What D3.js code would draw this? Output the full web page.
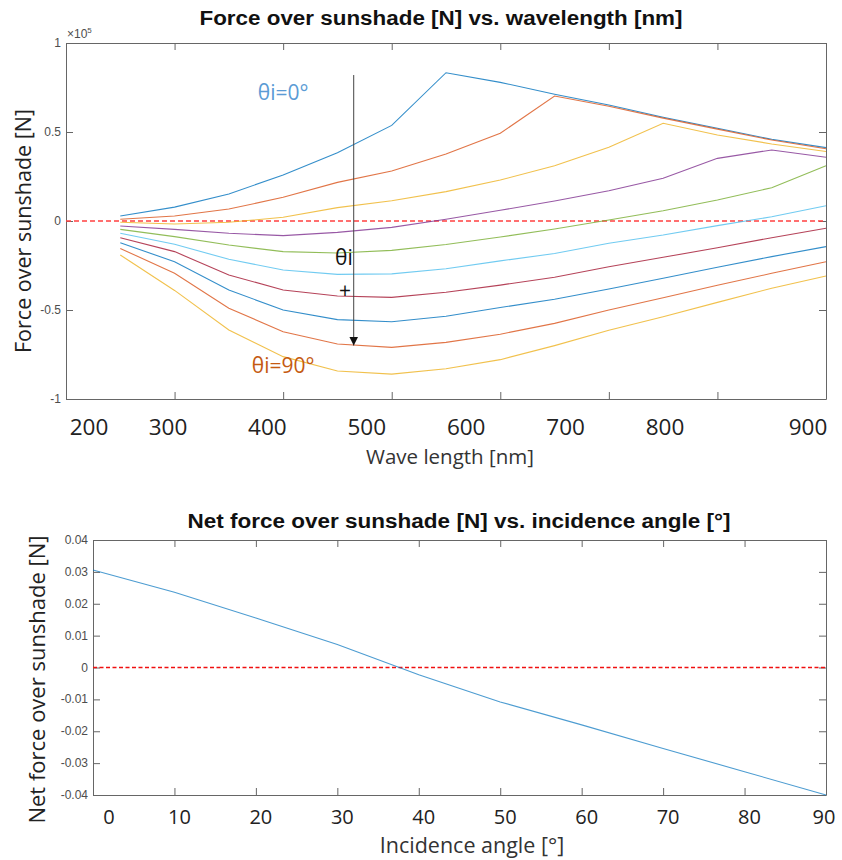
<!DOCTYPE html>
<html>
<head>
<meta charset="utf-8">
<script src="https://cdn.jsdelivr.net/npm/d3@7"></script>
<style>
  body { margin: 0; background: #fff; }
  text { font-family: "Open Sans", "Noto Sans", sans-serif; }
  .mtitle { font-family: "Liberation Sans", Arial, sans-serif; font-weight: bold; }
  .mtick { font-family: "Liberation Sans", Arial, sans-serif; fill: #4d4d4d; font-size: 12px; }
</style>
</head>
<body>
<div id="chart"></div>
<script>
// ---- data (top chart: force in units of 1e5 N) ----
const wavelength = [250, 300, 350, 400, 450, 500, 550, 600, 650, 700, 750, 800, 850, 900];
const incidence = [0, 10, 20, 30, 40, 50, 60, 70, 80, 90];
const forceByAngle = [
  [0.028, 0.078, 0.152, 0.258, 0.384, 0.537, 0.833, 0.779, 0.712, 0.652, 0.583, 0.521, 0.459, 0.412],
  [0.010, 0.028, 0.067, 0.133, 0.217, 0.281, 0.376, 0.493, 0.702, 0.645, 0.578, 0.516, 0.455, 0.406],
  [-0.007, -0.017, -0.007, 0.021, 0.075, 0.114, 0.165, 0.230, 0.310, 0.414, 0.549, 0.483, 0.433, 0.390],
  [-0.028, -0.047, -0.069, -0.082, -0.064, -0.036, 0.010, 0.060, 0.112, 0.170, 0.240, 0.352, 0.399, 0.358],
  [-0.047, -0.088, -0.135, -0.172, -0.180, -0.165, -0.132, -0.090, -0.045, 0.006, 0.058, 0.118, 0.187, 0.311],
  [-0.069, -0.131, -0.215, -0.275, -0.300, -0.297, -0.268, -0.224, -0.183, -0.125, -0.079, -0.026, 0.024, 0.086],
  [-0.094, -0.172, -0.303, -0.388, -0.421, -0.429, -0.400, -0.360, -0.316, -0.257, -0.204, -0.150, -0.094, -0.041],
  [-0.122, -0.229, -0.388, -0.500, -0.554, -0.566, -0.535, -0.486, -0.440, -0.382, -0.322, -0.260, -0.200, -0.144],
  [-0.154, -0.294, -0.490, -0.622, -0.691, -0.710, -0.682, -0.636, -0.575, -0.500, -0.431, -0.361, -0.294, -0.229],
  [-0.191, -0.390, -0.612, -0.762, -0.843, -0.860, -0.830, -0.779, -0.700, -0.614, -0.538, -0.457, -0.378, -0.309]
];
const topXTicks = [200, 300, 400, 500, 600, 700, 800, 900];
const topYTicks = [-1, -0.5, 0, 0.5, 1];

// ---- data (bottom chart: net force in N) ----
const angle = [0, 10, 20, 30, 40, 50, 60, 70, 80, 90];
const netForce = [0.0306, 0.0236, 0.0155, 0.0072, -0.0023, -0.0108, -0.0180, -0.0254, -0.0327, -0.0400];
const botXTicks = [0, 10, 20, 30, 40, 50, 60, 70, 80, 90];
const botYTicks = [-0.04, -0.03, -0.02, -0.01, 0, 0.01, 0.02, 0.03, 0.04];

// MATLAB default line colours
const lineColors = ['#0072BD', '#D95319', '#EDB120', '#7E2F8E', '#77AC30', '#4DBEEE', '#A2142F'];

const svg = d3.select('#chart').append('svg')
  .attr('width', 842)
  .attr('height', 860);

const P1 = { l: 66, r: 826, t: 43, b: 399 };
const P2 = { l: 93, r: 826, t: 540, b: 795 };

// matlab-like box with inward ticks on all sides
function drawBox(p, x, y, xt, yt) {
  const g = svg.append('g');
  const tk = 7;
  g.append('g').attr('transform', `translate(0,${p.b})`)
    .call(d3.axisBottom(x).tickValues(xt).tickSize(-tk).tickSizeOuter(0).tickFormat(''));
  g.append('g').attr('transform', `translate(0,${p.t})`)
    .call(d3.axisTop(x).tickValues(xt).tickSize(-tk).tickSizeOuter(0).tickFormat(''));
  g.append('g').attr('transform', `translate(${p.l},0)`)
    .call(d3.axisLeft(y).tickValues(yt).tickSize(-tk).tickSizeOuter(0).tickFormat(''));
  g.append('g').attr('transform', `translate(${p.r},0)`)
    .call(d3.axisRight(y).tickValues(yt).tickSize(-tk).tickSizeOuter(0).tickFormat(''));
  g.selectAll('path, line').attr('stroke', '#666').attr('stroke-width', 1);
  return g;
}

// ================= TOP CHART =================
const x1 = d3.scaleLinear().domain([200, 900]).range([P1.l, P1.r]);
const y1 = d3.scaleLinear().domain([-1, 1]).range([P1.b, P1.t]);

drawBox(P1, x1, y1, topXTicks, topYTicks);

// small matlab y tick labels
svg.append('g').selectAll('text').data(topYTicks).join('text')
  .attr('class', 'mtick')
  .attr('x', P1.l - 5).attr('y', d => y1(d) + 4)
  .attr('text-anchor', 'end')
  .text(d => String(d));

const expo = svg.append('text').attr('class', 'mtick').attr('x', P1.l + 1).attr('y', P1.t - 5);
expo.append('tspan').text('×10');
expo.append('tspan').attr('font-size', 8).attr('dy', -5).text('5');

// zero line
svg.append('line')
  .attr('x1', x1(200)).attr('x2', x1(900))
  .attr('y1', y1(0)).attr('y2', y1(0))
  .attr('stroke', '#ff4040').attr('stroke-width', 1.4)
  .attr('stroke-dasharray', '5,3');

const line1 = d3.line().x((d, i) => x1(wavelength[i])).y(d => y1(d));
svg.append('g').selectAll('path').data(forceByAngle).join('path')
  .attr('d', line1)
  .attr('fill', 'none')
  .attr('stroke', (d, i) => lineColors[i % lineColors.length])
  .attr('stroke-width', 1.1)
  .attr('stroke-opacity', 0.8);

// pasted tick labels (not evenly spaced in the source)
const x1Label = d3.scaleLinear().domain([200, 300, 800, 900]).range([89, 168, 665, 808]);
svg.append('g').selectAll('text').data(topXTicks).join('text')
  .attr('x', d => x1Label(d)).attr('y', P1.b + 36)
  .attr('text-anchor', 'middle')
  .attr('font-size', 22.5).attr('fill', '#222')
  .text(d => d);

svg.append('text')
  .attr('x', 450).attr('y', P1.b + 65)
  .attr('text-anchor', 'middle').attr('font-size', 20.5).attr('fill', '#333')
  .text('Wave length [nm]');

svg.append('text')
  .attr('transform', `translate(31,${(P1.t + P1.b) / 2 + 10}) rotate(-90)`)
  .attr('text-anchor', 'middle').attr('font-size', 21.5).attr('fill', '#222')
  .text('Force over sunshade [N]');

svg.append('text').attr('class', 'mtitle')
  .attr('x', 441).attr('y', 25)
  .attr('text-anchor', 'middle').attr('font-size', 20).attr('fill', '#111')
  .attr('textLength', 483).attr('lengthAdjust', 'spacingAndGlyphs')
  .text('Force over sunshade [N] vs. wavelength [nm]');

// annotations
svg.append('defs').append('marker')
  .attr('id', 'arr').attr('viewBox', '0 0 10 10')
  .attr('refX', 10).attr('refY', 5)
  .attr('markerWidth', 9).attr('markerHeight', 9)
  .attr('markerUnits', 'userSpaceOnUse')
  .attr('orient', 'auto')
  .append('path').attr('d', 'M0,0L10,5L0,10z').attr('fill', '#111');

svg.append('line')
  .attr('x1', x1(465)).attr('x2', x1(465))
  .attr('y1', y1(0.82)).attr('y2', y1(-0.70))
  .attr('stroke', '#444').attr('stroke-width', 1)
  .attr('marker-end', 'url(#arr)');

svg.append('text')
  .attr('x', x1(400)).attr('y', y1(0.68))
  .attr('text-anchor', 'middle').attr('font-size', 21).attr('fill', '#5B9BD5')
  .text('θi=0°');
svg.append('text')
  .attr('x', x1(400)).attr('y', y1(-0.855))
  .attr('text-anchor', 'middle').attr('font-size', 21).attr('fill', '#C55A11')
  .text('θi=90°');
svg.append('text')
  .attr('x', x1(456)).attr('y', y1(-0.245))
  .attr('text-anchor', 'middle').attr('font-size', 21).attr('fill', '#111')
  .text('θi');
svg.append('text')
  .attr('x', x1(457)).attr('y', y1(-0.43))
  .attr('text-anchor', 'middle').attr('font-size', 21).attr('fill', '#111')
  .text('+');

// ================= BOTTOM CHART =================
const x2 = d3.scaleLinear().domain([0, 90]).range([P2.l, P2.r]);
const y2 = d3.scaleLinear().domain([-0.04, 0.04]).range([P2.b, P2.t]);

drawBox(P2, x2, y2, botXTicks, botYTicks);

svg.append('g').selectAll('text').data(botYTicks).join('text')
  .attr('class', 'mtick')
  .attr('x', P2.l - 5).attr('y', d => y2(d) + 4)
  .attr('text-anchor', 'end')
  .text(d => String(d));

svg.append('line')
  .attr('x1', x2(0)).attr('x2', x2(90))
  .attr('y1', y2(0)).attr('y2', y2(0))
  .style('stroke', '#f01010').attr('stroke-width', 1.6)
  .attr('stroke-dasharray', '4,2.5');

svg.append('path')
  .datum(netForce)
  .attr('d', d3.line().x((d, i) => x2(angle[i])).y(d => y2(d)))
  .attr('fill', 'none')
  .attr('stroke', '#0072BD').attr('stroke-opacity', 0.7)
  .attr('stroke-width', 1.1);

svg.append('g').selectAll('text').data(botXTicks).join('text')
  .attr('x', d => x2(d) + (d === 0 ? 16 : d === 90 ? -2 : 5))
  .attr('y', P2.b + 29)
  .attr('text-anchor', 'middle')
  .attr('font-size', 20).attr('fill', '#222')
  .text(d => d);

svg.append('text')
  .attr('x', 472).attr('y', P2.b + 58)
  .attr('text-anchor', 'middle').attr('font-size', 21.5).attr('fill', '#333')
  .text('Incidence angle [°]');

svg.append('text')
  .attr('transform', `translate(45,${(P2.t + P2.b) / 2 + 12}) rotate(-90)`)
  .attr('text-anchor', 'middle').attr('font-size', 22).attr('fill', '#222')
  .text('Net force over sunshade [N]');

svg.append('text').attr('class', 'mtitle')
  .attr('x', 459).attr('y', 528)
  .attr('text-anchor', 'middle').attr('font-size', 20).attr('fill', '#111')
  .attr('textLength', 543).attr('lengthAdjust', 'spacingAndGlyphs')
  .text('Net force over sunshade [N] vs. incidence angle [°]');
</script>
</body>
</html>
